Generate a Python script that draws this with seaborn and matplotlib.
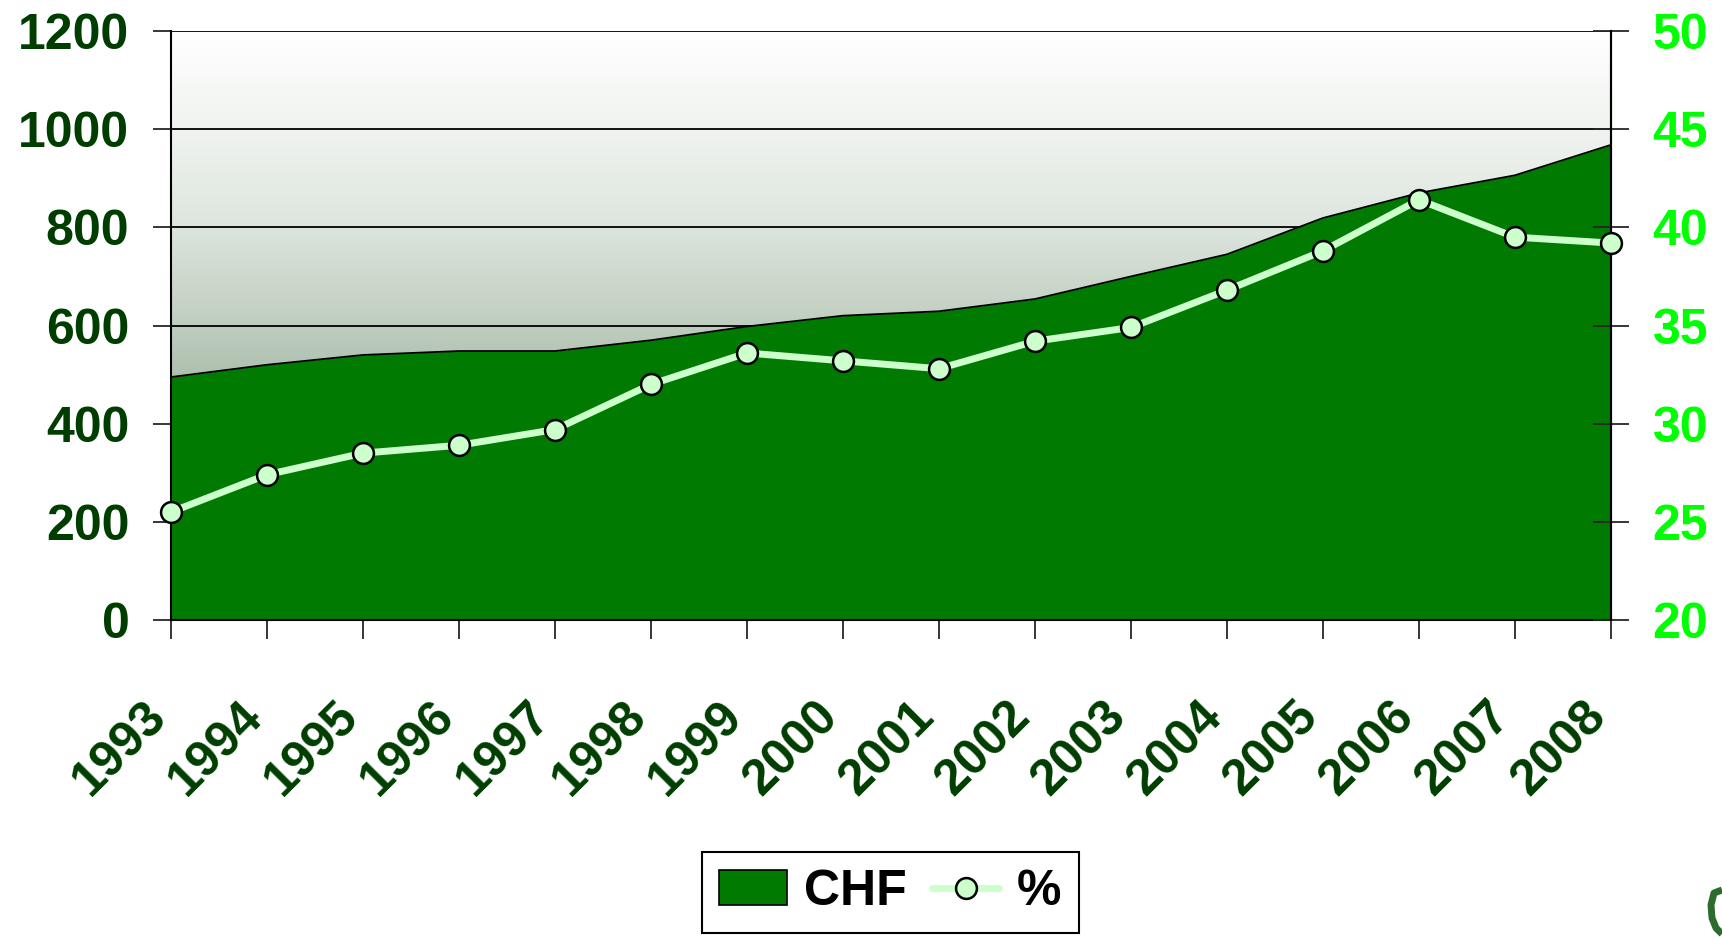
import numpy as np
import pandas as pd
import matplotlib
matplotlib.use("Agg")
import matplotlib.pyplot as plt
import matplotlib.transforms as mtrans
from matplotlib.colors import LinearSegmentedColormap
from matplotlib.patches import Patch
from matplotlib.lines import Line2D
import seaborn as sns

years = list(range(1993, 2009))
chf = [495, 520, 540, 548, 548, 570, 598, 620, 629, 654, 700, 745, 819, 870, 906, 968]
pct = [25.5, 27.4, 28.5, 28.9, 29.7, 32.0, 33.6, 33.2, 32.8, 34.2, 34.9, 36.8, 38.8, 41.4, 39.5, 39.2]
left_ticks = [0, 200, 400, 600, 800, 1000, 1200]
right_ticks = [20, 25, 30, 35, 40, 45, 50]

df = pd.DataFrame({"year": years, "CHF": chf, "pct": pct})

sns.set_style("white")
plt.rcParams["font.family"] = ["Liberation Sans", "DejaVu Sans"]
plt.rcParams["font.weight"] = "bold"
fs = 36

dark = "#003d00"
area_col = "#007a00"
line_col = "#ccffcc"

fig = plt.figure(figsize=(17.22, 9.39), dpi=100)
ax = fig.add_axes([0.0993, 0.3397, 0.9355 - 0.0993, 0.967 - 0.3397])

# gradient background of the plot area
cmap = LinearSegmentedColormap.from_list(
    "bg", [(0, "#6f8a6f"), (0.333, "#a0b4a0"), (0.5, "#bfcdbf"),
           (0.667, "#dde5dd"), (0.833, "#f0f3f0"), (1.0, "#ffffff")])
grad = np.linspace(0, 1, 256).reshape(-1, 1)
ax.imshow(grad, extent=[1993, 2008, 0, 1200], origin="lower", aspect="auto",
          cmap=cmap, zorder=0)

ax.fill_between(df["year"], df["CHF"], color=area_col, zorder=1, lw=0)
sns.lineplot(data=df, x="year", y="CHF", ax=ax, color="black", lw=1.3, zorder=2)

ax.set_xlim(1993, 2008)
ax.set_ylim(0, 1200)
ax.set_yticks(left_ticks)
ax.set_xticks(years)
ax.set_xlabel("")
ax.set_ylabel("")
ax.grid(axis="y", color="black", lw=1.3)
ax.set_axisbelow(True)
for s in ax.spines.values():
    s.set_color("black")
    s.set_linewidth(1.5)
ax.spines["top"].set_visible(False)

ax.tick_params(axis="y", direction="out", length=13, width=1.3, pad=17,
               labelsize=fs, labelcolor=dark, left=True)
ax.tick_params(axis="x", direction="out", length=14, width=1.3, pad=50,
               labelsize=fs, labelcolor=dark, bottom=True)
shift = mtrans.ScaledTranslation(-12 / 100, 0, fig.dpi_scale_trans)
for lab in ax.get_xticklabels():
    lab.set_rotation(45)
    lab.set_ha("right")
    lab.set_va("center")
    lab.set_rotation_mode("anchor")
    lab.set_transform(lab.get_transform() + shift)
for lab in ax.get_xticklabels() + ax.get_yticklabels():
    lab.set_fontweight("bold")

ax2 = ax.twinx()
sns.lineplot(data=df, x="year", y="pct", ax=ax2, color=line_col, lw=5,
             marker="o", markersize=15, markerfacecolor=line_col,
             markeredgecolor="black", markeredgewidth=1.8, zorder=3,
             clip_on=False)
ax2.set_ylim(20, 50)
ax2.set_yticks(right_ticks)
ax2.set_ylabel("")
ax2.tick_params(axis="y", direction="inout", length=26, width=1.3, pad=17,
                labelsize=fs, labelcolor="#00ff00", right=True)
for lab in ax2.get_yticklabels():
    lab.set_fontweight("bold")
for s in ax2.spines.values():
    s.set_visible(False)
ax2.spines["right"].set_visible(True)
ax2.spines["right"].set_color("black")
ax2.spines["right"].set_linewidth(1.5)

handles = [Patch(facecolor=area_col, edgecolor="black", lw=1.2),
           Line2D([0], [0], color=line_col, lw=5, marker="o", markersize=15,
                  markerfacecolor=line_col, markeredgecolor="black",
                  markeredgewidth=1.8)]
leg = fig.legend(handles, ["CHF", "%"], loc="center", bbox_to_anchor=(0.517, 0.05),
                 ncol=2, fontsize=fs, frameon=True, fancybox=False,
                 edgecolor="black", framealpha=1, handlelength=1.35,
                 handleheight=0.7, handletextpad=0.35, columnspacing=0.5,
                 borderpad=0.35, borderaxespad=0)
leg.get_frame().set_linewidth(1.5)
for t in leg.get_texts():
    t.set_fontweight("bold")
    t.set_color("black")

# cut-off logo fragment at the right edge
W, H = 1722, 939
logo_x = [1722, 1714, 1711, 1712, 1716, 1722]
logo_y = [890, 893, 905, 918, 928, 934]
fig.add_artist(Line2D([x / W for x in logo_x], [1 - y / H for y in logo_y],
                      transform=fig.transFigure, color="#2e6b2e", lw=5,
                      solid_capstyle="butt"))

fig.savefig("out.png", dpi=100)
